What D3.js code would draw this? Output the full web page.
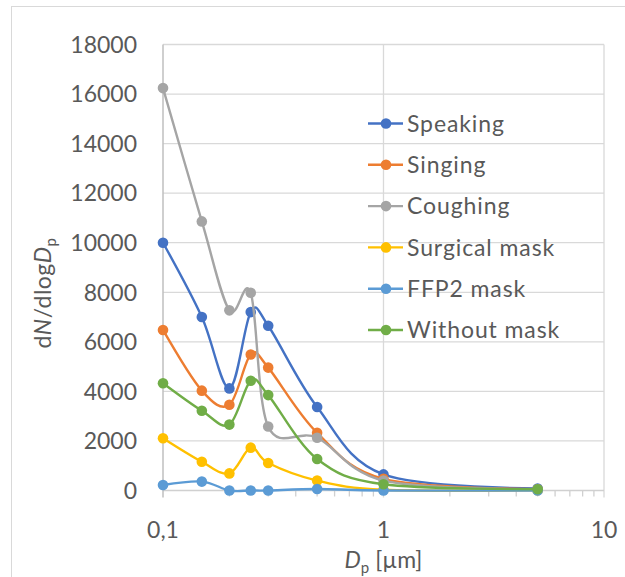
<!DOCTYPE html>
<html>
<head>
<meta charset="utf-8">
<script src="https://cdn.jsdelivr.net/npm/d3@7"></script>
<style>
    body { margin: 0; background: #fff; }
    text { font-family: Lato, "Open Sans", sans-serif; fill: #595959; }
</style>
</head>
<body>
<svg id="chart" width="625" height="577"></svg>
<script>
// particle sizes (µm) and dN/dlogDp values
const sizes = [0.1, 0.15, 0.2, 0.25, 0.3, 0.5, 1, 5];
const seriesNames = ['Speaking', 'Singing', 'Coughing', 'Surgical mask', 'FFP2 mask', 'Without mask'];
const speaking = [10000, 7000, 4120, 7200, 6650, 3370, 650, 80];
const singing = [6480, 4030, 3460, 5490, 4960, 2330, 470, 50];
const coughing = [16240, 10860, 7270, 7980, 2580, 2130, 400, 40];
const surgicalMask = [2110, 1160, 690, 1730, 1110, 400, 30, 5];
const ffp2Mask = [220, 360, 0, 0, 0, 60, 0, 0];
const withoutMask = [4330, 3220, 2660, 4430, 3850, 1270, 250, 50];
const colors = ['#4472C4', '#ED7D31', '#A5A5A5', '#FFC000', '#5B9BD5', '#70AD47'];
const yTicks = [0, 2000, 4000, 6000, 8000, 10000, 12000, 14000, 16000, 18000];
const xTicks = [0.1, 1, 10];

const allValues = [speaking, singing, coughing, surgicalMask, ffp2Mask, withoutMask];

const svg = d3.select('#chart');

// chart border
svg.append('rect')
    .attr('x', 11.5).attr('y', 6.5)
    .attr('width', 640).attr('height', 600)
    .attr('fill', 'none')
    .attr('stroke', '#d9d9d9');

const x = d3.scaleLog().domain([0.1, 10]).range([163, 604]);
const y = d3.scaleLinear().domain([0, 18000]).range([490.5, 44.5]);

// horizontal gridlines
svg.selectAll('.hgrid')
    .data(yTicks.slice(1))
    .join('line')
    .attr('x1', x(0.1)).attr('x2', x(10))
    .attr('y1', d => y(d)).attr('y2', d => y(d))
    .attr('stroke', '#d9d9d9').attr('stroke-width', 1.3);

// vertical gridlines at decades
svg.selectAll('.vgrid')
    .data(xTicks.slice(1))
    .join('line')
    .attr('x1', d => x(d)).attr('x2', d => x(d))
    .attr('y1', y(18000)).attr('y2', y(0) + 7)
    .attr('stroke', '#d9d9d9').attr('stroke-width', 1.3);

// minor ticks on the log axis
const minor = [];
[0.1, 1].forEach(dec => { for (let k = 2; k <= 9; k++) minor.push(dec * k); });
svg.selectAll('.minor')
    .data(minor)
    .join('line')
    .attr('x1', d => x(d)).attr('x2', d => x(d))
    .attr('y1', y(0)).attr('y2', y(0) + 6)
    .attr('stroke', '#d0d0d0').attr('stroke-width', 1.3);

// x axis line
svg.append('line')
    .attr('x1', x(0.1)).attr('x2', x(10))
    .attr('y1', y(0)).attr('y2', y(0))
    .attr('stroke', '#d0d0d0').attr('stroke-width', 1.3);

// y axis line at 0.1
svg.append('line')
    .attr('x1', x(0.1)).attr('x2', x(0.1))
    .attr('y1', y(18000)).attr('y2', y(0) + 7)
    .attr('stroke', '#bfbfbf').attr('stroke-width', 1.5);

// y tick labels
svg.selectAll('.ylab')
    .data(yTicks)
    .join('text')
    .attr('x', 137)
    .attr('y', d => y(d) + 8.3)
    .attr('text-anchor', 'end')
    .style('font-size', '23px')
    .text(d => d);

// x tick labels
svg.selectAll('.xlab')
    .data(xTicks)
    .join('text')
    .attr('x', d => x(d))
    .attr('y', 538)
    .attr('text-anchor', 'middle')
    .style('font-size', '23px')
    .text(d => String(d).replace('.', ','));

// axis titles
const xTitle = svg.append('text')
    .attr('x', (x(0.1) + x(10)) / 2)
    .attr('y', 568)
    .attr('text-anchor', 'middle')
    .style('font-size', '23px');
xTitle.append('tspan').style('font-style', 'italic').text('D');
xTitle.append('tspan').attr('dy', 5).style('font-size', '15px').text('p');
xTitle.append('tspan').attr('dy', -5).text(' [µm]');

const yTitle = svg.append('text')
    .attr('transform', 'translate(51,293) rotate(-90)')
    .attr('text-anchor', 'middle')
    .style('font-size', '23px')
    .style('letter-spacing', '0.5px');
yTitle.append('tspan').text('d');
yTitle.append('tspan').style('font-style', 'italic').text('N');
yTitle.append('tspan').text('/dlog');
yTitle.append('tspan').style('font-style', 'italic').text('D');
yTitle.append('tspan').attr('dy', 5).style('font-size', '15px').text('p');

// series
const line = d3.line()
    .x((d, i) => x(sizes[i]))
    .y(d => y(d))
    .curve(d3.curveCatmullRom.alpha(0));

seriesNames.forEach((name, s) => {
    const vals = allValues[s];
    const g = svg.append('g');
    g.append('path')
        .attr('d', line(vals))
        .attr('fill', 'none')
        .attr('stroke', colors[s])
        .attr('stroke-width', 2.4);
    g.selectAll('circle')
        .data(vals)
        .join('circle')
        .attr('cx', (d, i) => x(sizes[i]))
        .attr('cy', d => y(d))
        .attr('r', 5.3)
        .attr('fill', colors[s]);
});

// legend
const legend = svg.append('g');
seriesNames.forEach((name, i) => {
    const ly = 123.5 + i * 41.3;
    legend.append('line')
        .attr('x1', 368).attr('x2', 403)
        .attr('y1', ly).attr('y2', ly)
        .attr('stroke', colors[i]).attr('stroke-width', 2.4);
    legend.append('circle')
        .attr('cx', 386).attr('cy', ly).attr('r', 5.3)
        .attr('fill', colors[i]);
    legend.append('text')
        .attr('x', 407)
        .attr('y', ly + 8.3)
        .style('font-size', '23px')
        .style('letter-spacing', '0.9px')
        .text(name);
});
</script>
</body>
</html>
